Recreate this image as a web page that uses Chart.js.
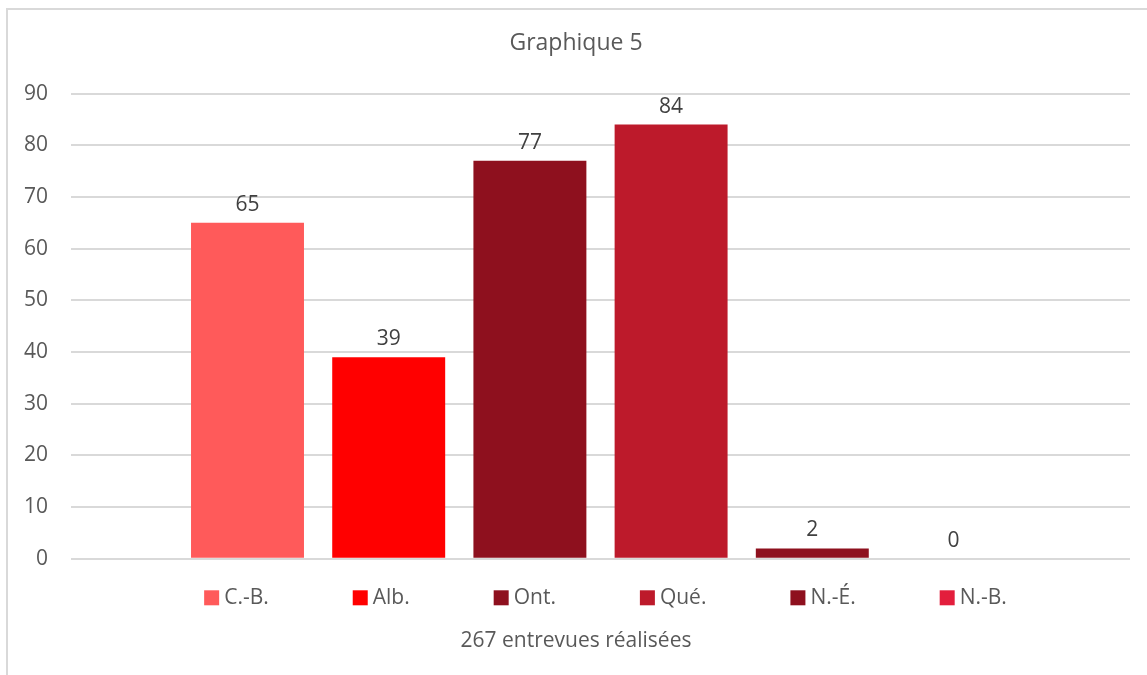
<!DOCTYPE html>
<html lang="fr">
<head>
<meta charset="utf-8">
<title>Graphique 5</title>
<script src="https://cdn.jsdelivr.net/npm/chart.js@4.4.1/dist/chart.umd.min.js"></script>
<style>
  html,body{margin:0;padding:0;background:#fff;overflow:hidden}
  .frame{position:absolute;left:6px;top:8px;width:1200px;height:700px;border:2px solid #d9d9d9;box-sizing:border-box}
  .wrap{position:absolute;left:0;top:0;width:1147px;height:675px}
</style>
</head>
<body>
<div class="frame"></div>
<div class="wrap"><canvas id="c"></canvas></div>
<script>
/* --- DATA --- */
const provinces = ['C.-B.','Alb.','Ont.','Qué.','N.-É.','N.-B.'];
const entrevues = [65, 39, 77, 84, 2, 0];
const yTicks    = [0, 10, 20, 30, 40, 50, 60, 70, 80, 90];

/* --- STYLE --- */
const colors = ['#ff5a5a','#ff0000','#8e101e','#bd1a2b','#8e101e','#e31e3c'];
const FONT = '"Open Sans", "Noto Sans", sans-serif';
const txt = '#595959';

/* value labels above bars */
const valueLabels = {
  id:'valueLabels',
  afterDatasetsDraw(chart){
    const {ctx} = chart;
    ctx.save();
    ctx.font = '21px ' + FONT;
    ctx.fillStyle = '#404040';
    ctx.textAlign = 'center';
    ctx.textBaseline = 'alphabetic';
    chart.data.datasets.forEach((ds,i)=>{
      const bar = chart.getDatasetMeta(i).data[0];
      if(!bar) return;
      ctx.fillText(String(ds.data[0]), bar.x, bar.y - 12);
    });
    ctx.restore();
  }
};

/* excel-like legend : square + label, fixed gap between entries */
const excelLegend = {
  id:'excelLegend',
  afterDraw(chart){
    const {ctx, chartArea} = chart;
    const box = 15, boxGap = 5, itemGap = 84;
    ctx.save();
    ctx.font = '21px ' + FONT;
    const items = chart.data.datasets.map(ds=>({
      text: ds.label, color: ds.backgroundColor,
      w: box + boxGap + ctx.measureText(ds.label).width
    }));
    const total = items.reduce((s,it)=>s+it.w,0) + itemGap*(items.length-1);
    let x = (chartArea.left + chartArea.right)/2 + 5 - total/2;
    const y = chartArea.bottom + 39;
    ctx.textBaseline = 'middle';
    ctx.textAlign = 'left';
    items.forEach(it=>{
      ctx.fillStyle = it.color;
      ctx.fillRect(x, y - box/2, box, box);
      ctx.fillStyle = txt;
      ctx.fillText(it.text, x + box + boxGap, y);
      x += it.w + itemGap;
    });
    ctx.restore();
  }
};

new Chart(document.getElementById('c'), {
  type:'bar',
  data:{
    labels:[''],
    datasets: provinces.map((p,i)=>({
      label:p, data:[entrevues[i]],
      backgroundColor:colors[i], borderWidth:0
    }))
  },
  options:{
    responsive:true, maintainAspectRatio:false, animation:false,
    layout:{padding:{left:22, right:17, top:0, bottom:0}},
    categoryPercentage:0.8, barPercentage:0.8,
    plugins:{
      legend:{display:false},
      tooltip:{enabled:false},
      title:{display:true, text:'Graphique 5', color:txt,
        font:{family:FONT, size:23, weight:'normal'},
        padding:{top:30, bottom:36}},
      subtitle:{display:true, position:'bottom', text:'267 entrevues réalisées', color:txt,
        font:{family:FONT, size:21, weight:'normal'},
        padding:{top:10, bottom:21}}
    },
    scales:{
      x:{
        grid:{display:false}, border:{display:false},
        ticks:{display:false},
        afterFit:s=>{ s.height = 60; }
      },
      y:{
        min:0, max:90,
        afterBuildTicks:s=>{ s.ticks = yTicks.map(v=>({value:v})); },
        afterFit:s=>{ s.width = 49; },
        grid:{color:'#d9d9d9', lineWidth:2, drawTicks:false},
        border:{display:false},
        ticks:{color:txt, padding:23, font:{family:FONT, size:21}}
      }
    }
  },
  plugins:[valueLabels, excelLegend]
});
</script>
</body>
</html>
